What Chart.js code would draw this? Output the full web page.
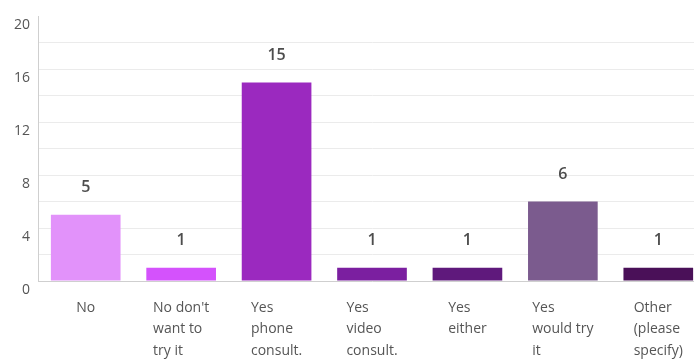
<!DOCTYPE html>
<html>
<head>
<meta charset="utf-8">
<script src="https://cdn.jsdelivr.net/npm/chart.js@4/dist/chart.umd.min.js"></script>
<style>
	html, body { margin: 0; padding: 0; background: #fff; overflow: hidden; }
	#wrap { width: 706px; height: 359px; position: relative; }
</style>
</head>
<body>
<div id="wrap"><canvas id="answersBar"></canvas></div>
<script>
"use strict";

// Answer choices (wrapped into lines) and response counts
var categories = [
	["No"],
	["No don't", "want to", "try it"],
	["Yes", "phone", "consult."],
	["Yes", "video", "consult."],
	["Yes", "either"],
	["Yes", "would try", "it"],
	["Other", "(please", "specify)"],
];
var responses = [5, 1, 15, 1, 1, 6, 1];
var barColors = ["#e292fa", "#d452fc", "#9b29bf", "#7b1fa0", "#5f197c", "#7b5b8e", "#4a1058"];
var yTicks = [0, 4, 8, 12, 16, 20];

var labelFont = "14px 'Open Sans', sans-serif";
var textColor = "#555555";

// Multi-line category labels: lines left aligned, block centred under the bar
var categoryLabels = {
	id: "categoryLabels",
	afterDraw: function (chart) {
		var ctx = chart.ctx;
		var xScale = chart.scales.x;
		var top = chart.chartArea.bottom + 16;
		ctx.save();
		ctx.font = labelFont;
		ctx.fillStyle = textColor;
		ctx.textBaseline = "middle";
		ctx.textAlign = "left";
		categories.forEach(function (lines, i) {
			var cx = xScale.getPixelForTick(i);
			var w = 0;
			lines.forEach(function (l) {
				w = Math.max(w, ctx.measureText(l).width);
			});
			lines.forEach(function (l, j) {
				ctx.fillText(l, cx - w / 2, top + 11 + j * 21.5);
			});
		});
		ctx.restore();
	},
};

// Count above each bar
var valueLabels = {
	id: "valueLabels",
	afterDatasetsDraw: function (chart) {
		var ctx = chart.ctx;
		var meta = chart.getDatasetMeta(0);
		ctx.save();
		ctx.font = "600 16px 'Open Sans', sans-serif";
		ctx.fillStyle = "#4d4d4d";
		ctx.textAlign = "center";
		ctx.textBaseline = "middle";
		meta.data.forEach(function (bar, i) {
			ctx.fillText(String(responses[i]), bar.x, bar.y - 27);
		});
		ctx.restore();
	},
};

function initAnswersBar() {
	var answersBar = document.getElementById("answersBar");
	new Chart(answersBar, {
		type: "bar",
		data: {
			labels: categories,
			datasets: [
				{
					data: responses,
					backgroundColor: barColors,
					categoryPercentage: 1,
					barPercentage: 0.73,
				},
			],
		},
		options: {
			responsive: true,
			maintainAspectRatio: false,
			animation: false,
			layout: {
				padding: { top: 9, left: 6, right: 0, bottom: 78 },
			},
			scales: {
				y: {
					min: 0,
					max: 20,
					grid: {
						drawTicks: false,
						color: function (c) {
							return c.tick && c.tick.value === 20 ? "transparent" : "#ebebeb";
						},
					},
					border: {
						display: true,
						color: "#cfcfcf",
					},
					ticks: {
						stepSize: 2,
						padding: 8,
						labelOffset: 9,
						color: textColor,
						font: { family: "'Open Sans', sans-serif", size: 14 },
						callback: function (v) {
							return yTicks.indexOf(v) >= 0 ? v : "";
						},
					},
				},
				x: {
					grid: { display: false, drawTicks: false },
					border: { display: true, color: "#cfcfcf" },
					ticks: { display: false },
				},
			},
			plugins: {
				legend: { display: false },
				tooltip: { enabled: false },
			},
		},
		plugins: [categoryLabels, valueLabels],
	});
}

(function () {
	initAnswersBar();
})();
</script>
</body>
</html>
